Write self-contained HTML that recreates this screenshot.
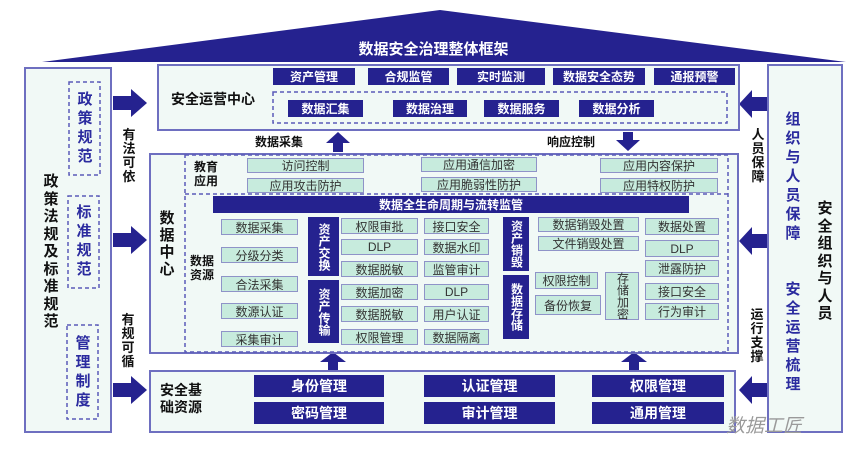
<!DOCTYPE html>
<html><head><meta charset="utf-8">
<style>
*{margin:0;padding:0;box-sizing:border-box}
body{width:867px;height:451px;background:#fff;position:relative;overflow:hidden;font-family:"Liberation Sans","Noto Sans CJK SC",sans-serif}
.a{position:absolute}
.box{position:absolute;background:#f1f9f6;border:2px solid #6e6fc0}
.g{position:absolute;background:#c7ebdd;border:1.5px solid #8f93c8;color:#333;font-size:12px;text-align:center;display:flex;align-items:center;justify-content:center;white-space:nowrap;letter-spacing:0}
.d{position:absolute;background:#25228f;color:#fff;font-weight:bold;font-size:12px;display:flex;align-items:center;justify-content:center;white-space:nowrap}
.dv{position:absolute;background:#25228f;color:#fff;font-weight:bold;font-size:12px;line-height:13px;text-align:center;display:flex;align-items:center;justify-content:center;writing-mode:vertical-rl}
.t{position:absolute;font-weight:bold;color:#111;font-size:13px;line-height:15px}
.v{position:absolute;font-weight:bold;color:#111;width:16px;text-align:center;line-height:16px}
.vb{position:absolute;font-weight:bold;color:#2b2b9f;width:16px;text-align:center;font-size:15px;line-height:19px}
.big{font-size:14px;font-weight:bold}
</style></head><body>
<svg class="a" style="left:0;top:0" width="867" height="451">
<polygon points="42,62 440,10 846,62" fill="#25228f"/>
<!-- left arrows -->
<g fill="#25228f">
<polygon points="113,96 131,96 131,89 147,103 131,117 131,110 113,110"/>
<polygon points="113,233 131,233 131,226 147,240 131,254 131,247 113,247"/>
<polygon points="113,383 131,383 131,376 147,390 131,404 131,397 113,397"/>
<!-- right arrows pointing left -->
<polygon points="768,97 752,97 752,90 739,104 752,118 752,111 768,111"/>
<polygon points="768,234 752,234 752,227 739,241 752,255 752,248 768,248"/>
<polygon points="768,383 752,383 752,376 739,390 752,404 752,397 768,397"/>
<!-- up arrows -->
<polygon points="333,152 333,143 326,143 338,132 350,143 343,143 343,152"/>
<polygon points="328,370 328,362 320,362 333,352 346,362 338,362 338,370"/>
<polygon points="629,370 629,362 621,362 634,352 647,362 639,362 639,370"/>
<!-- down arrow -->
<polygon points="623,132 633,132 633,140 640,140 628,151 616,140 623,140"/>
</g>
</svg>
<div class="a" style="left:0;top:38px;width:867px;text-align:center;color:#fff;font-weight:bold;font-size:15px">数据安全治理整体框架</div>

<!-- left column -->
<div class="box" style="left:24px;top:67px;width:88px;height:366px"></div>
<div class="v" style="left:43px;top:173px;font-size:15px;line-height:17.5px">政策法规及标准规范</div>
<svg class="a" style="left:0;top:0" width="867" height="451" fill="none" stroke="#5a5ab8" stroke-width="1.5" stroke-dasharray="4,3">
<rect x="69" y="82" width="31" height="93"/>
<rect x="68" y="196" width="31" height="92"/>
<rect x="67" y="325" width="31" height="94"/>
<rect x="777" y="100" width="31" height="150"/>
<rect x="777" y="270" width="31" height="132"/>
</svg>
<div class="vb" style="left:77px;top:90px">政策规范</div>
<div class="vb" style="left:76px;top:203px">标准规范</div>
<div class="vb" style="left:75px;top:334px">管理制度</div>
<div class="v" style="left:121px;top:128px;font-size:13px;line-height:14px">有法可依</div>
<div class="v" style="left:120px;top:313px;font-size:13px;line-height:14px">有规可循</div>

<!-- right column -->
<div class="box" style="left:767px;top:64px;width:76px;height:369px"></div>
<div class="vb" style="left:785px;top:110px">组织与人员保障</div>
<div class="vb" style="left:785px;top:280px">安全运营梳理</div>
<div class="v" style="left:817px;top:200px;font-size:15px;line-height:17.5px">安全组织与人员</div>
<div class="v" style="left:750px;top:128px;font-size:13px;line-height:14px">人员保障</div>
<div class="v" style="left:749px;top:308px;font-size:13px;line-height:14px">运行支撑</div>

<!-- security ops center -->
<div class="box" style="left:157px;top:64px;width:583px;height:67px"></div>
<div class="t big" style="left:171px;top:92px">安全运营中心</div>
<div class="d" style="left:273px;top:68px;width:82px;height:17px">资产管理</div>
<div class="d" style="left:368px;top:68px;width:81px;height:17px">合规监管</div>
<div class="d" style="left:457px;top:68px;width:88px;height:17px">实时监测</div>
<div class="d" style="left:553px;top:68px;width:92px;height:17px">数据安全态势</div>
<div class="d" style="left:654px;top:68px;width:81px;height:17px">通报预警</div>
<svg class="a" style="left:0;top:0" width="867" height="451" fill="none" stroke="#5a5ab8" stroke-width="1.5" stroke-dasharray="4,3">
<rect x="273" y="92" width="454" height="31"/>
</svg>
<div class="d" style="left:288px;top:100px;width:75px;height:17px">数据汇集</div>
<div class="d" style="left:393px;top:100px;width:74px;height:17px">数据治理</div>
<div class="d" style="left:484px;top:100px;width:75px;height:17px">数据服务</div>
<div class="d" style="left:579px;top:100px;width:75px;height:17px">数据分析</div>
<div class="t" style="left:255px;top:135px;font-size:12px">数据采集</div>
<div class="t" style="left:547px;top:135px;font-size:12px">响应控制</div>

<!-- data center -->
<div class="box" style="left:149px;top:153px;width:590px;height:201px"></div>
<svg class="a" style="left:0;top:0" width="867" height="451" fill="none" stroke="#5a5ab8" stroke-width="1.5" stroke-dasharray="4,3">
<rect x="185" y="155" width="543" height="197"/>
<line x1="185" y1="194" x2="728" y2="194"/>
</svg>
<div class="v" style="left:159px;top:210px;font-size:15px;line-height:17px">数据中心</div>
<div class="t" style="left:194px;top:160px;font-size:12px;line-height:14px">教育<br>应用</div>
<div class="t" style="left:190px;top:254px;font-size:12px;line-height:14px">数据<br>资源</div>
<div class="g" style="left:247px;top:158px;width:117px;height:15px">访问控制</div>
<div class="g" style="left:247px;top:178px;width:117px;height:15px">应用攻击防护</div>
<div class="g" style="left:421px;top:157px;width:116px;height:15px">应用通信加密</div>
<div class="g" style="left:421px;top:177px;width:116px;height:15px">应用脆弱性防护</div>
<div class="g" style="left:600px;top:158px;width:118px;height:15px">应用内容保护</div>
<div class="g" style="left:600px;top:178px;width:118px;height:15px">应用特权防护</div>
<div class="d" style="left:213px;top:196px;width:476px;height:17px">数据全生命周期与流转监管</div>

<div class="g" style="left:221px;top:219px;width:77px;height:16px">数据采集</div>
<div class="g" style="left:221px;top:247px;width:77px;height:16px">分级分类</div>
<div class="g" style="left:221px;top:276px;width:77px;height:16px">合法采集</div>
<div class="g" style="left:221px;top:303px;width:77px;height:16px">数源认证</div>
<div class="g" style="left:221px;top:331px;width:77px;height:16px">采集审计</div>

<div class="dv" style="left:308px;top:217px;width:31px;height:59px">资产交换</div>
<div class="dv" style="left:308px;top:280px;width:31px;height:63px">资产传输</div>

<div class="g" style="left:341px;top:218px;width:77px;height:16px">权限审批</div>
<div class="g" style="left:341px;top:239px;width:77px;height:16px">DLP</div>
<div class="g" style="left:341px;top:261px;width:77px;height:16px">数据脱敏</div>
<div class="g" style="left:341px;top:284px;width:77px;height:16px">数据加密</div>
<div class="g" style="left:341px;top:306px;width:77px;height:16px">数据脱敏</div>
<div class="g" style="left:341px;top:329px;width:77px;height:16px">权限管理</div>

<div class="g" style="left:424px;top:218px;width:65px;height:16px">接口安全</div>
<div class="g" style="left:424px;top:239px;width:65px;height:16px">数据水印</div>
<div class="g" style="left:424px;top:261px;width:65px;height:16px">监管审计</div>
<div class="g" style="left:424px;top:284px;width:65px;height:16px">DLP</div>
<div class="g" style="left:424px;top:306px;width:65px;height:16px">用户认证</div>
<div class="g" style="left:424px;top:329px;width:65px;height:16px">数据隔离</div>

<div class="dv" style="left:503px;top:217px;width:26px;height:54px">资产销毁</div>
<div class="dv" style="left:503px;top:275px;width:26px;height:64px">数据存储</div>

<div class="g" style="left:538px;top:217px;width:101px;height:15px">数据销毁处置</div>
<div class="g" style="left:538px;top:236px;width:101px;height:15px">文件销毁处置</div>
<div class="g" style="left:535px;top:272px;width:63px;height:17px">权限控制</div>
<div class="g" style="left:535px;top:295px;width:66px;height:20px">备份恢复</div>
<div class="g" style="left:605px;top:272px;width:34px;height:48px;writing-mode:vertical-rl;line-height:13px">存储加密</div>

<div class="g" style="left:645px;top:218px;width:74px;height:17px">数据处置</div>
<div class="g" style="left:645px;top:240px;width:74px;height:17px">DLP</div>
<div class="g" style="left:645px;top:260px;width:74px;height:17px">泄露防护</div>
<div class="g" style="left:645px;top:283px;width:74px;height:17px">接口安全</div>
<div class="g" style="left:645px;top:303px;width:74px;height:17px">行为审计</div>

<!-- foundation -->
<div class="box" style="left:149px;top:370px;width:587px;height:63px"></div>
<div class="t big" style="left:160px;top:382px;line-height:17px">安全基<br>础资源</div>
<div class="d" style="left:254px;top:375px;width:130px;height:22px;font-size:14px">身份管理</div>
<div class="d" style="left:254px;top:402px;width:130px;height:22px;font-size:14px">密码管理</div>
<div class="d" style="left:424px;top:375px;width:131px;height:22px;font-size:14px">认证管理</div>
<div class="d" style="left:424px;top:402px;width:131px;height:22px;font-size:14px">审计管理</div>
<div class="d" style="left:592px;top:375px;width:132px;height:22px;font-size:14px">权限管理</div>
<div class="d" style="left:592px;top:402px;width:132px;height:22px;font-size:14px">通用管理</div>

<div class="a" style="left:726px;top:411px;font-size:19px;font-style:italic;color:#9a9a9a">数据工匠</div>
</body></html>
